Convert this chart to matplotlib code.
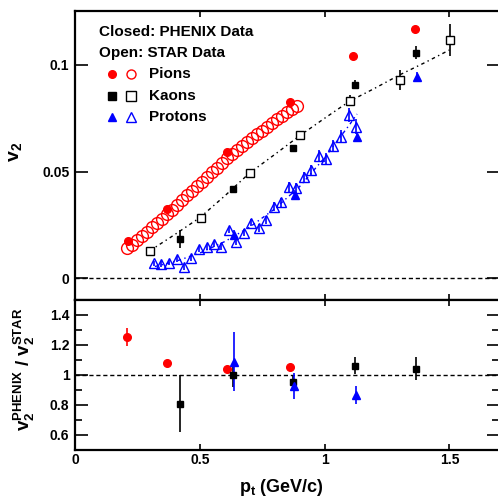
import numpy as np
import matplotlib
matplotlib.use('Agg')
import matplotlib.pyplot as plt
from matplotlib.ticker import FixedLocator, MultipleLocator, FuncFormatter

plt.rcParams['font.family'] = ['Liberation Sans', 'DejaVu Sans']
plt.rcParams['font.weight'] = 'bold'
plt.rcParams['mathtext.fontset'] = 'custom'
plt.rcParams['mathtext.rm'] = 'Liberation Sans:bold'
plt.rcParams['mathtext.bf'] = 'Liberation Sans:bold'
plt.rcParams['mathtext.it'] = 'Liberation Sans:bold'
plt.rcParams['mathtext.default'] = 'rm'

# -----------------------------
# PHENIX data (closed symbols)
# -----------------------------
phx_pi_pt = [0.212, 0.367, 0.610, 0.860, 1.113, 1.362]
phx_pi_v2 = [0.0176, 0.0325, 0.0590, 0.0825, 0.1040, 0.1170]
phx_pi_err = [0.0008, 0.0006, 0.0006, 0.0007, 0.0008, 0.0010]

phx_k_pt = [0.421, 0.635, 0.875, 1.120, 1.366]
phx_k_v2 = [0.0183, 0.0417, 0.0612, 0.0908, 0.1058]
phx_k_err = [0.0042, 0.0015, 0.0015, 0.0022, 0.0030]

phx_p_pt = [0.637, 0.880, 1.129, 1.369]
phx_p_v2 = [0.0203, 0.0390, 0.0660, 0.0945]
phx_p_err = [0.0025, 0.0015, 0.0020, 0.0020]

# -----------------------------
# STAR data (open symbols)
# -----------------------------
star_pi_pt = [0.21, 0.23, 0.25, 0.27, 0.29, 0.31, 0.33, 0.35, 0.37, 0.39,
              0.41, 0.43, 0.45, 0.47, 0.49, 0.51, 0.53, 0.55, 0.57, 0.59,
              0.61, 0.63, 0.65, 0.67, 0.69, 0.71, 0.73, 0.75, 0.77, 0.79,
              0.81, 0.83, 0.85, 0.87, 0.89]
star_pi_v2 = [0.0140, 0.0158, 0.0177, 0.0197, 0.0217, 0.0238, 0.0259, 0.0280, 0.0301, 0.0322,
              0.0344, 0.0366, 0.0388, 0.0410, 0.0431, 0.0452, 0.0474, 0.0496, 0.0518, 0.0540,
              0.0562, 0.0581, 0.0600, 0.0619, 0.0638, 0.0656, 0.0674, 0.0692, 0.0710, 0.0728,
              0.0745, 0.0762, 0.0778, 0.0793, 0.0808]

star_k_pt = [0.300, 0.504, 0.701, 0.900, 1.102, 1.302, 1.502]
star_k_v2 = [0.0129, 0.0284, 0.0494, 0.0673, 0.0833, 0.0930, 0.1117]
star_k_err = [0.0010, 0.0010, 0.0012, 0.0018, 0.0025, 0.0048, 0.0075]

star_p_pt = [0.317, 0.346, 0.377, 0.407, 0.437, 0.466, 0.498, 0.528, 0.557, 0.586,
             0.617, 0.647, 0.677, 0.707, 0.736, 0.767, 0.797, 0.827, 0.856, 0.885,
             0.917, 0.947, 0.978, 1.007, 1.035, 1.067, 1.098, 1.125]
star_p_v2 = [0.0070, 0.0067, 0.0073, 0.0089, 0.0052, 0.0094, 0.0136, 0.0148, 0.0161, 0.0148,
             0.0226, 0.0172, 0.0214, 0.0261, 0.0234, 0.0273, 0.0336, 0.0356, 0.0427, 0.0422,
             0.0473, 0.0508, 0.0573, 0.0558, 0.0620, 0.0664, 0.0766, 0.0711]
star_p_err = [0.0012, 0.0012, 0.0012, 0.0013, 0.0013, 0.0013, 0.0014, 0.0014, 0.0015, 0.0015,
              0.0016, 0.0016, 0.0017, 0.0017, 0.0018, 0.0019, 0.0020, 0.0021, 0.0022, 0.0023,
              0.0024, 0.0025, 0.0026, 0.0027, 0.0028, 0.0030, 0.0032, 0.0034]

# fit curves (dash-dot)
fit_k_pt = [0.30, 0.40, 0.50, 0.60, 0.70, 0.80, 0.90, 1.00, 1.10, 1.20, 1.30, 1.40, 1.50]
fit_k_v2 = [0.0129, 0.0205, 0.0284, 0.0386, 0.0494, 0.0580, 0.0668, 0.0750, 0.0830, 0.0890, 0.0953, 0.1010, 0.1070]
fit_p_pt = [0.32, 0.40, 0.50, 0.60, 0.70, 0.80, 0.90, 1.00, 1.10, 1.13]
fit_p_v2 = [0.0055, 0.0078, 0.0118, 0.0172, 0.0240, 0.0325, 0.0430, 0.0565, 0.0720, 0.0770]

# -----------------------------
# Ratio PHENIX / STAR
# -----------------------------
r_pi_pt = [0.210, 0.367, 0.610, 0.861]
r_pi = [1.255, 1.082, 1.042, 1.051]
r_pi_err = [0.060, 0.012, 0.012, 0.012]

r_k_pt = [0.421, 0.633, 0.873, 1.120, 1.368]
r_k = [0.81, 0.997, 0.951, 1.062, 1.042]
r_k_err = [0.19, 0.080, 0.050, 0.055, 0.075]

r_p_pt = [0.637, 0.879, 1.126]
r_p = [1.089, 0.929, 0.867]
r_p_err = [0.195, 0.087, 0.060]

# -----------------------------
# Figure
# -----------------------------
W, H = 498, 497
fig = plt.figure(figsize=(W / 100, H / 100), dpi=100)
ax1 = fig.add_axes([75 / W, 1 - 300 / H, 0.852, 289 / H])
ax2 = fig.add_axes([75 / W, 1 - 450 / H, 0.852, 150 / H])

eb = dict(linestyle='none', elinewidth=1.2, capsize=0)

# top panel
ax1.axhline(0, color='black', lw=1, ls=(0, (3, 2)))
ax1.plot(fit_k_pt, fit_k_v2, color='black', lw=1, ls=(0, (2.5, 2.5, 1, 2.5)))
ax1.plot(fit_p_pt, fit_p_v2, color='blue', lw=1, ls=(0, (2.5, 2.5, 1, 2.5)))

ax1.plot(star_pi_pt, star_pi_v2, 'o', ms=8.5, mfc='none', mec='red', mew=1.0)
ax1.errorbar(star_k_pt, star_k_v2, yerr=star_k_err, fmt='s', ms=5.5, mfc='white',
             mec='black', mew=1.0, ecolor='black', **eb)
ax1.errorbar(star_p_pt, star_p_v2, yerr=star_p_err, fmt='^', ms=7.5, mfc='none',
             mec='blue', mew=1.0, ecolor='blue', **eb)

ax1.errorbar(phx_pi_pt, phx_pi_v2, yerr=phx_pi_err, fmt='o', ms=5.5, color='red', **eb)
ax1.errorbar(phx_k_pt, phx_k_v2, yerr=phx_k_err, fmt='s', ms=5, color='black', **eb)
ax1.errorbar(phx_p_pt, phx_p_v2, yerr=phx_p_err, fmt='^', ms=6, color='blue', **eb)

ax1.set_xlim(0, 1.7)
ax1.set_ylim(-0.0102, 0.1253)

# legend (hand-placed, like the original)
tr = ax1.transAxes
ax1.text(0.057, 0.927, 'Closed: PHENIX Data', transform=tr, fontsize=11, va='center')
ax1.text(0.057, 0.855, 'Open: STAR Data', transform=tr, fontsize=11, va='center')
rows = [('Pions', 'o', 'red', 0.782), ('Kaons', 's', 'black', 0.706), ('Protons', '^', 'blue', 0.633)]
for name, mk, col, yy in rows:
    ax1.plot([0.0875], [yy], mk, ms=5.5, color=col, transform=tr)
    ax1.plot([0.132], [yy], mk, ms=6.5, mfc='none', mec=col, mew=1.0, transform=tr)
    ax1.text(0.175, yy, name, transform=tr, fontsize=11, va='center')

# bottom panel
ax2.axhline(1, color='black', lw=1, ls=(0, (3, 2)))
ax2.errorbar(r_pi_pt, r_pi, yerr=r_pi_err, fmt='o', ms=5.5, color='red', **eb)
ax2.errorbar(r_k_pt, r_k, yerr=r_k_err, fmt='s', ms=5, color='black', **eb)
ax2.errorbar(r_p_pt, r_p, yerr=r_p_err, fmt='^', ms=5.5, color='blue', **eb)
ax2.set_xlim(0, 1.7)
ax2.set_ylim(0.5, 1.5)

fmt = FuncFormatter(lambda v, p: '%g' % round(v, 3))
for ax in (ax1, ax2):
    for s in ax.spines.values():
        s.set_linewidth(1.6)
    ax.xaxis.set_major_locator(FixedLocator([0, 0.5, 1, 1.5]))
    ax.xaxis.set_major_formatter(fmt)
    ax.yaxis.set_major_formatter(fmt)
    ax.tick_params(axis='x', which='both', direction='in', top=True, bottom=True,
                   length=4.5, width=1.2, labelsize=10, pad=2)
    ax.tick_params(axis='y', which='major', direction='in', left=True, right=True,
                   length=9, width=1.2, labelsize=10, pad=4)

ax1.yaxis.set_major_locator(FixedLocator([0, 0.05, 0.1]))
ax1.tick_params(axis='x', labelbottom=False)
ax2.yaxis.set_major_locator(FixedLocator([0.6, 0.8, 1.0, 1.2, 1.4]))
ax2.yaxis.set_minor_locator(MultipleLocator(0.1))
ax2.tick_params(axis='y', which='minor', direction='in', left=True, right=True,
                length=5, width=1.2)

fig.text(16 / W, 1 - 152 / H, 'v$_2$', rotation=90, ha='center', va='center', fontsize=14)
fig.text(24 / W, 1 - 369 / H, 'v$_2^{PHENIX}$ / v$_2^{STAR}$', rotation=90,
         ha='center', va='center', fontsize=13.5)
fig.text(281 / W, 1 - 488 / H, 'p$_t$ (GeV/c)', ha='center', va='center', fontsize=13)

fig.savefig('out.png', dpi=100)
